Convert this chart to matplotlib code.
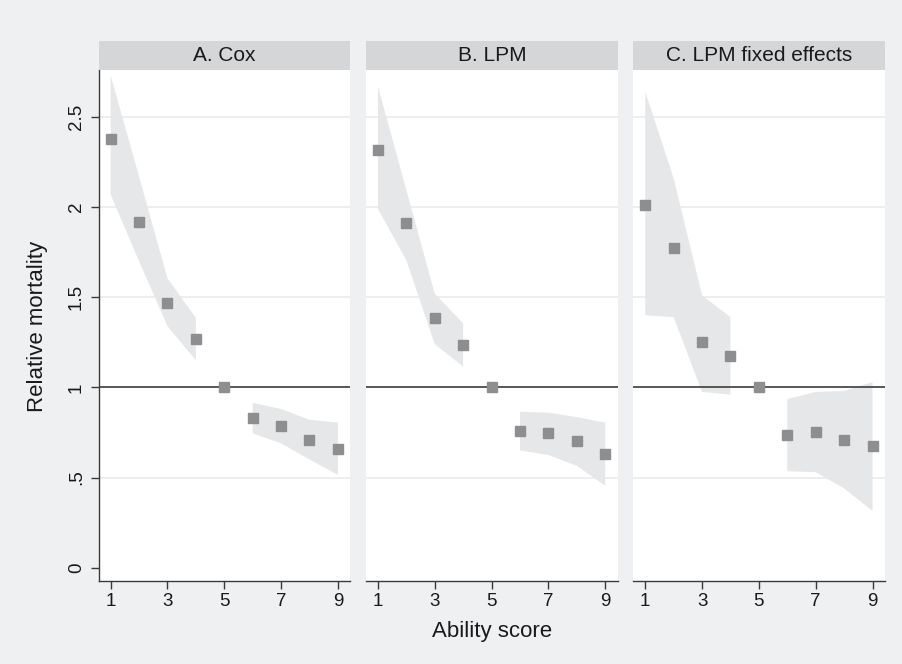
import numpy as np
import matplotlib
matplotlib.use("Agg")
import matplotlib.pyplot as plt

plt.rcParams['font.family'] = ['Liberation Sans', 'DejaVu Sans']

# Data
scores = [1, 2, 3, 4, 5, 6, 7, 8, 9]
nan = np.nan

cox_est = [2.38, 1.92, 1.47, 1.27, 1.0, 0.83, 0.785, 0.71, 0.66]
cox_lo = [2.07, 1.70, 1.34, 1.15, nan, 0.745, 0.69, 0.60, 0.515]
cox_hi = [2.73, 2.17, 1.605, 1.385, nan, 0.915, 0.88, 0.82, 0.805]

lpm_est = [2.315, 1.91, 1.385, 1.235, 1.0, 0.76, 0.745, 0.70, 0.63]
lpm_lo = [1.99, 1.705, 1.24, 1.115, nan, 0.65, 0.625, 0.565, 0.455]
lpm_hi = [2.67, 2.095, 1.52, 1.355, nan, 0.865, 0.86, 0.835, 0.805]

fe_est = [2.01, 1.775, 1.25, 1.175, 1.0, 0.735, 0.755, 0.71, 0.675]
fe_lo = [1.40, 1.39, 0.975, 0.96, nan, 0.535, 0.53, 0.44, 0.315]
fe_hi = [2.64, 2.16, 1.51, 1.39, nan, 0.935, 0.975, 0.98, 1.03]

titles = ["A. Cox", "B. LPM", "C. LPM fixed effects"]
panels = [(cox_est, cox_lo, cox_hi), (lpm_est, lpm_lo, lpm_hi), (fe_est, fe_lo, fe_hi)]

ytick_vals = [0, 0.5, 1, 1.5, 2, 2.5]
ytick_labels = ["0", ".5", "1", "1.5", "2", "2.5"]
xtick_vals = [1, 3, 5, 7, 9]

# Colours
bg = "#eff0f2"
header_col = "#d5d6d8"
band_col = "#e6e7e9"
marker_col = "#8e8e90"
axis_col = "#3a3a3a"
grid_col = "#ebebeb"

W, H = 903, 664
fig = plt.figure(figsize=(W / 100, H / 100), dpi=100, facecolor=bg)

lefts = [98.7, 366.0, 633.3]
pw = 251.7
top, bottom = 69.5, 580.7
head_top = 41.0

for i, (left, (est, lo, hi)) in enumerate(zip(lefts, panels)):
    ax = fig.add_axes([left / W, 1 - bottom / H, pw / W, (bottom - top) / H])
    ax.set_facecolor("white")
    ax.set_xlim(0.58, 9.44)
    ax.set_ylim(-0.072, 2.763)

    for g in [0.5, 1.5, 2, 2.5]:
        ax.axhline(g, color=grid_col, lw=1.2, zorder=0)

    ax.fill_between(scores, lo, hi, color=band_col, lw=0, zorder=1)
    ax.axhline(1, color="#4a4a4a", lw=1.3, zorder=2)
    ax.plot(scores, est, ls="none", marker="s", ms=7.2, color=marker_col,
            mec=marker_col, zorder=3)

    for s in ["top", "right"]:
        ax.spines[s].set_visible(False)
    ax.spines["bottom"].set_color(axis_col)
    ax.spines["bottom"].set_linewidth(1.0)
    ax.set_xticks(xtick_vals)
    ax.tick_params(axis="x", length=6, width=1, color=axis_col, labelsize=13.5,
                   pad=3, labelcolor="#1a1a1a")

    if i == 0:
        ax.spines["left"].set_color(axis_col)
        ax.spines["left"].set_linewidth(1.0)
        ax.set_yticks(ytick_vals)
        ax.set_yticklabels(ytick_labels, rotation=90, va="center")
        ax.tick_params(axis="y", length=6, width=1, color=axis_col, labelsize=13.5,
                       pad=4, labelcolor="#1a1a1a")
    else:
        ax.spines["left"].set_visible(False)
        ax.set_yticks([])

    # panel header strip
    hax = fig.add_axes([left / W, 1 - top / H, pw / W, (top - head_top) / H])
    hax.set_facecolor(header_col)
    hax.set_xticks([])
    hax.set_yticks([])
    for s in hax.spines.values():
        s.set_visible(False)
    hax.text(0.5, 0.48, titles[i], ha="center", va="center", fontsize=15,
             color="#1a1a1a", transform=hax.transAxes)

fig.text(38 / W, 1 - 326.5 / H, "Relative mortality", rotation=90, ha="center",
         va="center", fontsize=16, color="#1a1a1a")
fig.text((366.0 + pw / 2) / W, 1 - 632 / H, "Ability score", ha="center",
         va="center", fontsize=16, color="#1a1a1a")

fig.savefig("out.png", dpi=100, facecolor=bg)
